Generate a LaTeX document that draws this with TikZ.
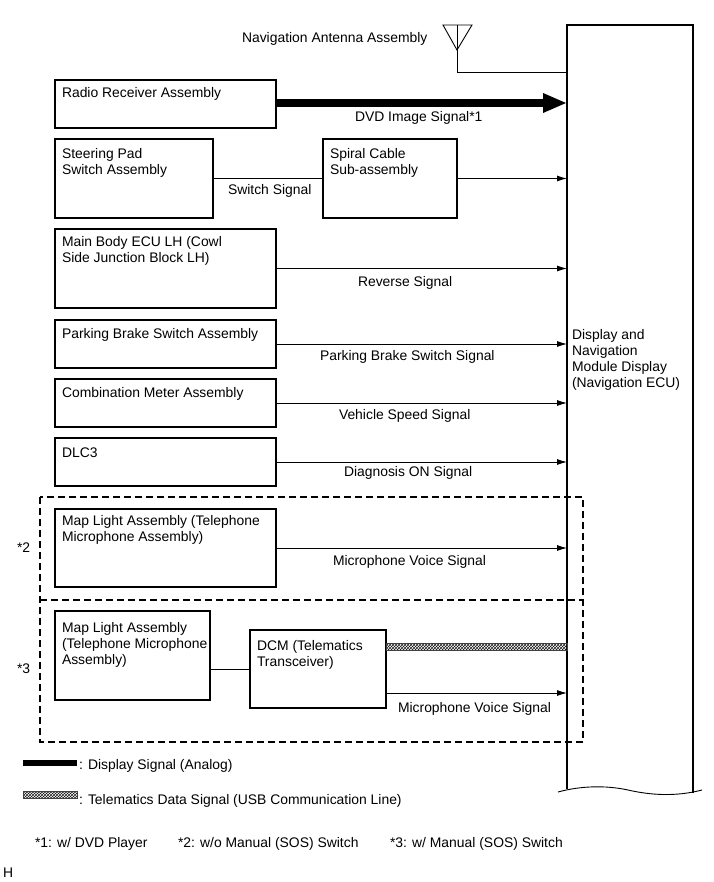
\documentclass[tikz,border=0pt]{standalone}
\usepackage{fontspec}
\setmainfont{Liberation Sans}
\usetikzlibrary{arrows.meta,patterns}
\begin{document}
\begin{tikzpicture}[x=1pt,y=-1pt,
  every node/.style={font=\fontsize{13.9}{16}\selectfont, inner sep=0pt, outer sep=0pt},
  box/.style={draw, line width=1.3pt, anchor=north west, minimum width=#1},
  txt/.style={anchor=base west, align=left},
  sig/.style={line width=0.9pt, -{Latex[length=10pt,width=6pt]}},
  wire/.style={line width=0.9pt},
  thick signal/.style={line width=8pt, -{Triangle[length=24pt,width=18pt]}},
  hatchband/.style={fill=black!25, pattern=crosshatch, pattern color=black!90, draw=black!75, line width=0.7pt},
  dashbox/.style={draw, line width=1.4pt, dash pattern=on 7pt off 4pt}
]
\useasboundingbox (0,0) rectangle (713,882);

% Navigation ECU (tall box with break line)
\coordinate (ecuTL) at (567,25);
\coordinate (ecuTR) at (693,25);
\coordinate (ecuBL) at (567,789);
\coordinate (ecuBR) at (693,793);
\draw[line width=1.3pt] (ecuBL) -- (ecuTL) -- (ecuTR) -- (ecuBR);
\draw[line width=0.9pt] (558,792) .. controls (580,786) and (605,785) .. (628,790)
   .. controls (650,795) and (675,797) .. (702,790);
% base anchor = baseline of the last line
\node[txt] (ecutext) at (572,387) {Display and\\Navigation\\Module Display\\(Navigation ECU)};

% Antenna
\coordinate (anttop) at (457,25);
\coordinate (antbend) at (457,72);
\draw[line width=0.9pt] (443,25) -- (472,25) -- (457,50) -- cycle;
\draw[wire] (anttop) -- (antbend) -- (antbend -| ecuTL);
\node[txt] (anttext) at (242,43) {Navigation Antenna Assembly};

% Boxes
\node[box=221pt, minimum height=48pt] (radio) at (55,80) {};
\node[txt] at (62,98) {Radio Receiver Assembly};

\node[box=158pt, minimum height=79pt] (steer) at (55,139) {};
\node[txt] at (62,175) {Steering Pad\\Switch Assembly};

\node[box=134pt, minimum height=79pt] (spiral) at (323,139) {};
\node[txt] at (330,175) {Spiral Cable\\Sub-assembly};

\node[box=221pt, minimum height=79pt] (body) at (55,229) {};
\node[txt] at (62,262) {Main Body ECU LH (Cowl\\Side Junction Block LH)};

\node[box=221pt, minimum height=48pt] (park) at (55,320) {};
\node[txt] at (62,338) {Parking Brake Switch Assembly};

\node[box=221pt, minimum height=48pt] (combi) at (55,379) {};
\node[txt] at (62,397) {Combination Meter Assembly};

\node[box=221pt, minimum height=48pt] (dlc) at (55,438) {};
\node[txt] at (62,457) {DLC3};

\node[box=221pt, minimum height=78pt] (map1) at (55,509) {};
\node[txt] at (62,541) {Map Light Assembly (Telephone\\Microphone Assembly)};

\node[box=155pt, minimum height=89pt] (map2) at (55,611) {};
\node[txt] at (62,664) {Map Light Assembly\\(Telephone Microphone\\Assembly)};

\node[box=136pt, minimum height=78pt] (dcm) at (250,630) {};
\node[txt] at (257,666) {DCM (Telematics\\Transceiver)};

% Dashed option frames
\coordinate (dashTL) at (40,497);
\coordinate (dashMR) at (583,600);
\coordinate (dashBR) at (583,742);
\draw[dashbox] (dashTL) rectangle (dashBR);
\draw[dashbox] (dashTL |- dashMR) -- (dashMR);
\node[txt] at (17,552) {*2};
\node[txt] at (17,673) {*3};

% Connectors
\draw[thick signal] (radio.east |- 0,103) -- (ecuTL |- 0,103);
\node[txt] at (355,122) {DVD Image Signal*1};

\draw[wire] (steer.east) -- (spiral.west);
\node[txt] at (228,195) {Switch Signal};
\draw[sig] (spiral.east) -- (spiral.east -| ecuTL);

\draw[sig] (body.east) -- (body.east -| ecuTL);
\node[txt] at (358,286) {Reverse Signal};

\draw[sig] (park.east) -- (park.east -| ecuTL);
\node[txt] at (320,360) {Parking Brake Switch Signal};

\draw[sig] (combi.east) -- (combi.east -| ecuTL);
\node[txt] at (339,419) {Vehicle Speed Signal};

\draw[sig] (dlc.east) -- (dlc.east -| ecuTL);
\node[txt] at (344,476) {Diagnosis ON Signal};

\draw[sig] (map1.east) -- (map1.east -| ecuTL);
\node[txt] at (333,565) {Microphone Voice Signal};

\draw[wire] (map2.east |- dcm.west) -- (dcm.west);
\coordinate (hatchA) at ([yshift=-13.5pt]dcm.north east);
\coordinate (hatchB) at ([yshift=-20.5pt]dcm.north east -| ecuTL);
\draw[hatchband] (hatchA) rectangle (hatchB);
\draw[sig] ([yshift=-63pt]dcm.north east) -- ([yshift=-63pt]dcm.north east -| ecuTL);
\node[txt] at (398,712) {Microphone Voice Signal};

% Legend
\coordinate (legA) at (23,763);
\coordinate (legB) at (77,763);
\draw[line width=6pt] (legA) -- (legB);
\node[txt] at (79,769) {: Display Signal (Analog)};
\coordinate (legC) at (23,798);
\coordinate (legD) at (77,791);
\draw[hatchband] (legC) rectangle (legD);
\node[txt] at (79,804) {: Telematics Data Signal (USB Communication Line)};

% Footnotes
\node[txt] at (35,847) {*1: w/ DVD Player};
\node[txt] at (178,847) {*2: w/o Manual (SOS) Switch};
\node[txt] at (390,847) {*3: w/ Manual (SOS) Switch};
\node[txt] at (3,877) {H};
\end{tikzpicture}
\end{document}
